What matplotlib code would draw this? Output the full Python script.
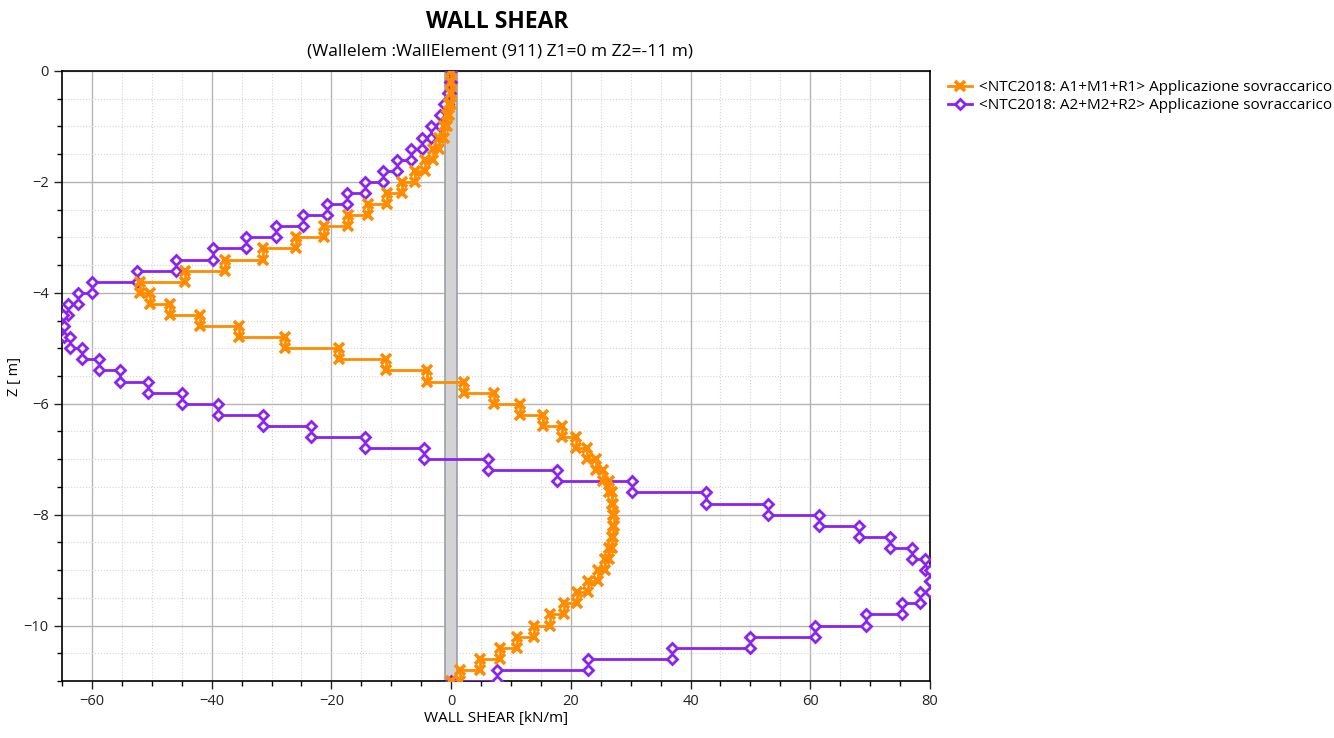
import numpy as np
import matplotlib
matplotlib.use("Agg")
import matplotlib.pyplot as plt
from matplotlib.ticker import MultipleLocator

# element boundaries along the wall [m]
z_nodes = [0.0, -0.2, -0.4, -0.6, -0.8, -1.0, -1.2, -1.4, -1.6, -1.8,
           -2.0, -2.2, -2.4, -2.6, -2.8, -3.0, -3.2, -3.4, -3.6, -3.8,
           -4.0, -4.2, -4.4, -4.6, -4.8, -5.0, -5.2, -5.4, -5.6, -5.8,
           -6.0, -6.2, -6.4, -6.6, -6.8, -7.0, -7.2, -7.4, -7.6, -7.8,
           -8.0, -8.2, -8.4, -8.6, -8.8, -9.0, -9.2, -9.4, -9.6, -9.8,
           -10.0, -10.2, -10.4, -10.6, -10.8, -11.0]

# shear per element [kN/m]
shear_a1 = [0.0, 0.0, -0.1, -0.3, -0.7, -1.2, -2.1, -3.0, -4.3, -6.0,
            -8.2, -10.7, -13.8, -17.2, -21.2, -25.9, -31.5, -37.8, -44.4, -52.0,
            -50.3, -46.9, -42.0, -35.5, -27.7, -18.7, -10.9, -4.1, 2.1, 7.1,
            11.5, 15.3, 18.5, 20.9, 22.7, 24.2, 25.3, 26.4, 26.9, 27.1,
            27.2, 27.1, 26.8, 26.4, 25.7, 24.6, 22.8, 21.0, 18.8, 16.5,
            13.8, 11.0, 8.1, 4.8, 1.5]

shear_a2 = [0.0, -0.2, -0.6, -1.2, -1.9, -3.3, -4.9, -6.7, -9.0, -11.4,
            -14.4, -17.4, -20.8, -24.8, -29.2, -34.2, -39.8, -45.9, -52.5, -60.0,
            -62.4, -64.0, -64.9, -64.7, -63.6, -61.7, -58.8, -55.3, -50.6, -45.0,
            -38.9, -31.5, -23.4, -14.4, -4.6, 6.1, 17.7, 30.2, 42.6, 53.0,
            61.4, 68.2, 73.3, 77.0, 79.2, 80.0, 80.0, 78.4, 75.3, 69.3,
            60.8, 49.9, 36.9, 22.9, 7.7]

labels = ["<NTC2018: A1+M1+R1> Applicazione sovraccarico",
          "<NTC2018: A2+M2+R2> Applicazione sovraccarico"]


def step_coords(values):
    # each element is constant between its two nodes, closed with 0 at the toe
    z = np.asarray(z_nodes)
    zz = np.column_stack([z[:-1], z[1:]]).ravel()
    vv = np.repeat(np.asarray(values), 2)
    return np.append(vv, 0.0), np.append(zz, z[-1])


plt.rcParams["font.family"] = ["Open Sans", "DejaVu Sans"]

fig = plt.figure(figsize=(13.34, 7.38), dpi=100)
ax = fig.add_axes([62 / 1334, 1 - 681 / 738, 868 / 1334, 610 / 738])

ax.axvspan(-1, 1, facecolor="#d3d3d3", edgecolor="#9aa0a8", lw=1.2, zorder=1)

x2, z2 = step_coords(shear_a2)
x1, z1 = step_coords(shear_a1)
l2, = ax.plot(x2, z2, color="#8b22ee", lw=2, marker="D", ms=5.5, mfc="white",
              mec="#8b22ee", mew=2, zorder=3)
l1, = ax.plot(x1, z1, color="#ff8c00", lw=2, marker="x", ms=7, mew=2.6, zorder=4)

ax.set_xlim(-65, 80)
ax.set_ylim(-11, 0)
ax.xaxis.set_major_locator(MultipleLocator(20))
ax.xaxis.set_minor_locator(MultipleLocator(5))
ax.yaxis.set_major_locator(MultipleLocator(2))
ax.yaxis.set_minor_locator(MultipleLocator(0.5))
ax.grid(which="major", color="#b4b4b4", lw=1.0)
ax.grid(which="minor", color="#d4d4d4", lw=0.8, ls=":")
ax.set_axisbelow(True)
ax.tick_params(which="major", direction="out", length=6, width=1, labelsize=10.5,
               colors="#222222")
ax.tick_params(which="minor", direction="out", length=3.5, width=1)
for s in ax.spines.values():
    s.set_color("black")
    s.set_linewidth(1.2)

ax.set_xlabel("WALL SHEAR [kN/m]", fontsize=11, labelpad=1)
ax.set_ylabel("Z [ m]", fontsize=10.5)
ax.yaxis.set_label_coords(-0.046, 0.5)

fig.text(497 / 1334, 1 - 22 / 738, "WALL SHEAR", ha="center", va="center",
         fontsize=16.5, fontweight="bold")
fig.text(500 / 1334, 1 - 52 / 738, "(Wallelem :WallElement (911) Z1=0 m Z2=-11 m)",
         ha="center", va="center", fontsize=12.5)

fig.legend([l1, l2], labels, loc="upper left", bbox_to_anchor=(948 / 1334, 1 - 80 / 738),
           frameon=False, fontsize=11, handlelength=1.6, handletextpad=0.4,
           labelspacing=0.2, borderaxespad=0, borderpad=0)

fig.savefig("out.png", dpi=100)
